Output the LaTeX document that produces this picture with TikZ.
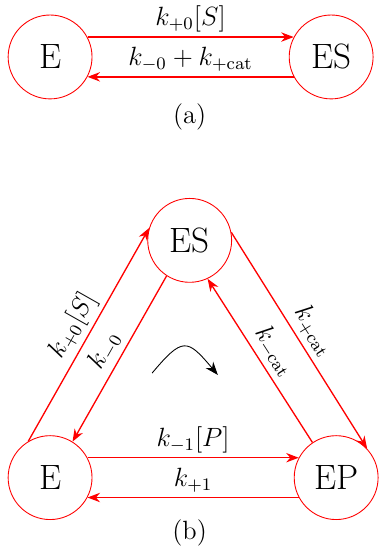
\documentclass[tikz,border=0pt]{standalone}
\usepackage{amsmath,amssymb}
\usepackage{tikz}
\usetikzlibrary{arrows.meta}

\begin{document}
\begin{tikzpicture}[
        species/.style={draw=red, circle, minimum size=1.34cm, inner sep=0pt, font=\fontsize{16}{18}\selectfont},
        link/.style={draw=red, semithick, -{Stealth[red]}},
        rate/.style={font=\large, inner sep=2pt}]
        \useasboundingbox (0,0) rectangle (6.05,8.93);

        % (a) E <-> ES
        \node[species] (Ea) at (0.80,8.02) {E};
        \node[species] (ESa) at (5.29,8.02) {ES};
        \draw[link] (Ea.28) -- (ESa.152) node[rate, midway, above] {$k_{+0}[S]$};
        \draw[link] (ESa.208) -- (Ea.332) node[rate, midway, above] {$k_{-0}+k_{+\mathrm{cat}}$};
        \node[font=\large] (capa) at (3.03,7.07) {(a)};

        % (b) cycle E -> ES -> EP -> E
        \node[species] (ESb) at (3.03,5.09) {ES};
        \node[species] (Eb) at (0.80,1.30) {E};
        \node[species] (EPb) at (5.37,1.30) {EP};

        \draw[link] (Eb.121) -- (ESb.163) node[rate, midway, above, sloped] {$k_{+0}[S]$};
        \draw[link] (ESb.237) -- (Eb.58) node[rate, midway, above, sloped] {$k_{-0}$};
        \draw[link] (EPb.124) -- (ESb.295) node[rate, midway, above, sloped] {$k_{-\mathrm{cat}}$};
        \draw[link] (ESb.11) -- (EPb.43) node[rate, midway, above, sloped] {$k_{+\mathrm{cat}}$};
        \draw[link] (Eb.28) -- (EPb.152) node[rate, midway, above] {$k_{-1}[P]$};
        \draw[link] (EPb.208) -- (Eb.332) node[rate, midway, above] {$k_{+1}$};

        % turning sense
        \coordinate (T1) at (2.43,2.97);
        \coordinate (T2) at (3.48,2.94);
        \draw[-{Stealth[length=6pt]}] (T1) to[out=50, in=130, looseness=1.85] (T2);

        \node[font=\large] (capb) at (3.03,0.42) {(b)};
\end{tikzpicture}
\end{document}
